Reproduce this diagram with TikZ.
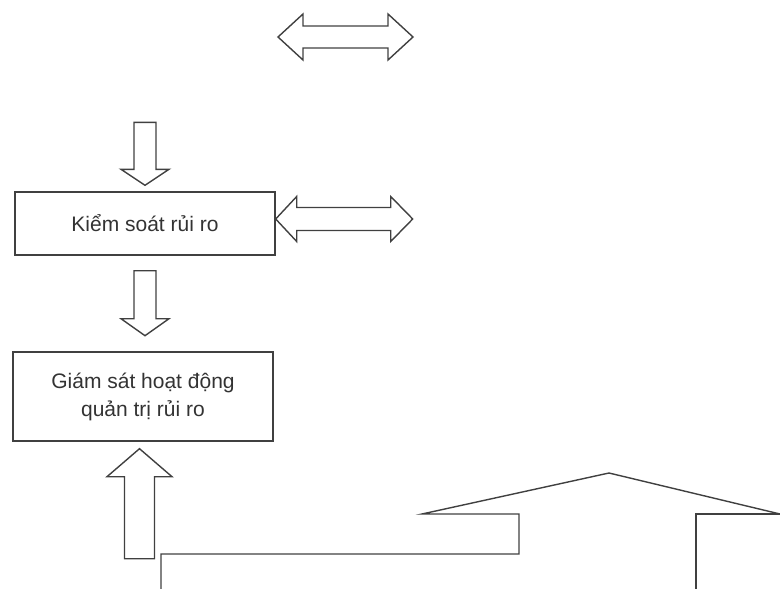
\documentclass[tikz,border=0pt]{standalone}
\usepackage{fontspec}
\setmainfont{Liberation Sans}
\usetikzlibrary{calc}

\begin{document}
\begin{tikzpicture}[
  x=1pt, y=-1pt,
  every node/.style = {shape=rectangle, draw=black!75, line width=1.4pt, align=center,
                       font=\fontsize{21}{28}\selectfont, text=black!80},
  blockarrow/.style = {draw=black!75, line width=1.4pt, line join=miter}
]
  \useasboundingbox (0,0) rectangle (780,589);

  \node[minimum width=260pt, minimum height=63pt] (kiemsoat) at (145,223.5) {Kiểm soát rủi ro};
  \node[minimum width=260pt, minimum height=89pt] (giamsat) at (143,396.5) {Giám sát hoạt động\\quản trị rủi ro};

  % double arrow at the top
  \coordinate (topleft) at (278,37);
  \draw[blockarrow, shift={(topleft)}] (0,0) -- (25,-23) -- (25,-11) -- (110,-11) -- (110,-23) -- (135,0)
    -- (110,23) -- (110,11) -- (25,11) -- (25,23) -- cycle;

  % into kiem soat
  \draw[blockarrow, shift={(kiemsoat.north)}] (-11,-69) -- (11,-69) -- (11,-22) -- (24,-22) -- (0,-6)
    -- (-24,-22) -- (-11,-22) -- cycle;

  % kiem soat to the right
  \draw[blockarrow, shift={(kiemsoat.east)}] (0,-4.5) -- (21,-27) -- (21,-16) -- (115,-16) -- (115,-27) -- (137,-4.5)
    -- (115,18) -- (115,7) -- (21,7) -- (21,18) -- cycle;

  % kiem soat to giam sat
  \draw[blockarrow, shift={(kiemsoat.south)}] (-11,15) -- (11,15) -- (11,63) -- (24,63) -- (0,80)
    -- (-24,63) -- (-11,63) -- cycle;

  % up into giam sat
  \draw[blockarrow, shift={(giamsat.south)}] (-18.5,117) -- (11.5,117) -- (11.5,35) -- (29,35) -- (-3.5,7)
    -- (-36,35) -- (-18.5,35) -- cycle;

  % wide arrow at the bottom (cut off)
  \draw[blockarrow] (161,589) -- (161,554) -- (519,554) -- (519,514) -- (422,514) -- (609,473) -- (780,514);
  \draw[blockarrow] (696,589) -- (696,514) -- (780,514);
\end{tikzpicture}
\end{document}
